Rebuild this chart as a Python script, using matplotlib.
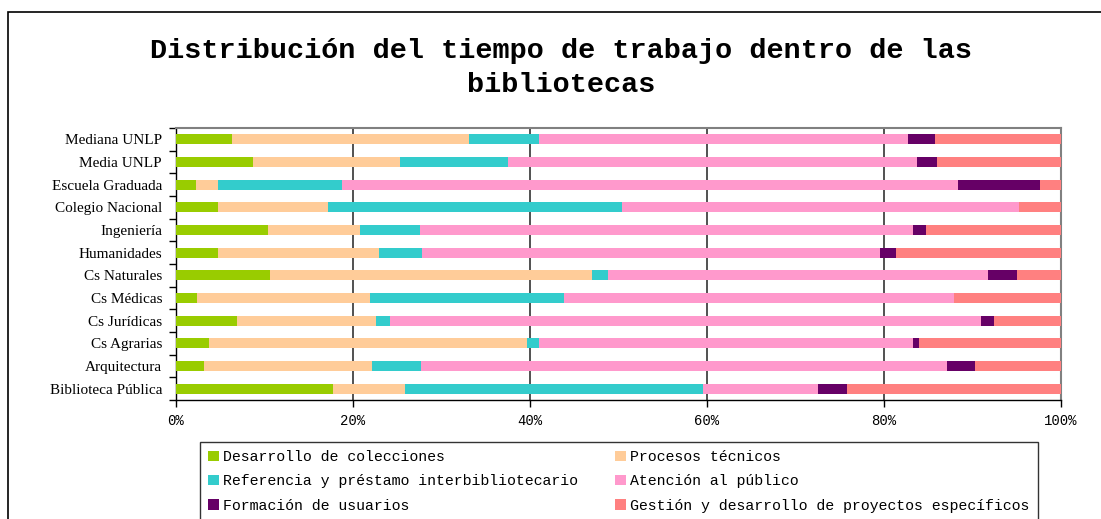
import numpy as np
import matplotlib
matplotlib.use('Agg')
import matplotlib.pyplot as plt
from matplotlib.patches import Rectangle

# categories from top to bottom
categories = ['Mediana UNLP', 'Media UNLP', 'Escuela Graduada', 'Colegio Nacional',
              'Ingeniería', 'Humanidades', 'Cs Naturales', 'Cs Médicas',
              'Cs Jurídicas', 'Cs Agrarias', 'Arquitectura', 'Biblioteca Pública']

desarrollo = [6.3, 8.7, 2.3, 4.7, 10.4, 4.7, 10.6, 2.4, 6.9, 3.7, 3.2, 17.7]
procesos   = [26.8, 16.6, 2.4, 12.5, 10.4, 18.2, 36.4, 19.5, 15.7, 36.0, 18.9, 8.2]
referencia = [7.9, 12.2, 14.1, 33.2, 6.8, 4.9, 1.8, 21.9, 1.6, 1.3, 5.6, 33.6]
atencion   = [41.7, 46.2, 69.6, 44.9, 55.7, 51.7, 43.0, 44.1, 66.8, 42.3, 59.4, 13.0]
formacion  = [3.1, 2.3, 9.2, 0.0, 1.4, 1.9, 3.2, 0.0, 1.4, 0.7, 3.2, 3.3]
gestion    = [14.2, 14.0, 2.4, 4.7, 15.3, 18.6, 5.0, 12.1, 7.6, 16.0, 9.7, 24.2]

series = [
    ('Desarrollo de colecciones', desarrollo, '#99CC00'),
    ('Procesos técnicos', procesos, '#FFCC99'),
    ('Referencia y préstamo interbibliotecario', referencia, '#33CCCC'),
    ('Atención al público', atencion, '#FF99CC'),
    ('Formación de usuarios', formacion, '#660066'),
    ('Gestión y desarrollo de proyectos específicos', gestion, '#FF8080'),
]

W, H = 1101, 519
fig = plt.figure(figsize=(W / 100, H / 100), dpi=100)
ax = fig.add_axes([176 / W, 1 - 400 / H, (1061 - 176) / W, (400 - 128) / H])

y = np.arange(len(categories))
tot = np.sum([s[1] for s in series], axis=0)
left = np.zeros(len(categories))
bars = {}
for name, vals, col in series:
    pct = np.array(vals) / tot * 100
    bars[name] = ax.barh(y, pct, left=left, height=0.45, color=col, zorder=3)
    left += pct

ax.set_xlim(0, 100)
ax.set_ylim(len(categories) - 0.5, -0.5)

ax.set_xticks([0, 20, 40, 60, 80, 100])
ax.set_xticklabels(['0%', '20%', '40%', '60%', '80%', '100%'],
                   family='Liberation Mono', fontsize=10)
ax.tick_params(axis='x', length=5, width=1, pad=5, direction='out')

ax.set_yticks(y)
ax.set_yticklabels(categories, family='Liberation Serif', fontsize=11)
ax.set_yticks(np.arange(-0.5, len(categories)), minor=True)
ax.tick_params(axis='y', which='major', length=0, pad=10)
ax.tick_params(axis='y', which='minor', length=5, width=1, direction='out')

for gx in [20, 40, 60, 80]:
    ax.axvline(gx, color='#333333', lw=1.2, zorder=1)

for s in ['left', 'bottom']:
    ax.spines[s].set_color('black')
    ax.spines[s].set_linewidth(1)
for s in ['top', 'right']:
    ax.spines[s].set_color('#808080')
    ax.spines[s].set_linewidth(1.5)

fig.text(561 / W, 1 - 68 / H, 'Distribución del tiempo de trabajo dentro de las\nbibliotecas',
         ha='center', va='center', family='Liberation Mono', fontweight='bold',
         fontsize=20.5, linespacing=1.4)

# outer chart frame (extends past the image edges)
fig.patches.append(Rectangle((8 / W, -0.2), 1.2, 1 - 12 / H + 0.2,
                             transform=fig.transFigure, fill=False,
                             edgecolor='black', lw=1.2))

order = [0, 2, 4, 1, 3, 5]
handles = [bars[series[i][0]] for i in order]
labels = [series[i][0] for i in order]
leg = fig.legend(handles, labels, loc='upper left', ncol=2,
                 bbox_to_anchor=(200 / W, 1 - 442 / H),
                 frameon=True, fancybox=False, edgecolor='black',
                 prop={'family': 'Liberation Mono', 'size': 10.75},
                 handlelength=0.7, handleheight=0.7, handletextpad=0.3,
                 labelspacing=0.68, borderaxespad=0, borderpad=0.55,
                 columnspacing=2.5)
leg.get_frame().set_linewidth(1)

fig.savefig('out.png', dpi=100)
